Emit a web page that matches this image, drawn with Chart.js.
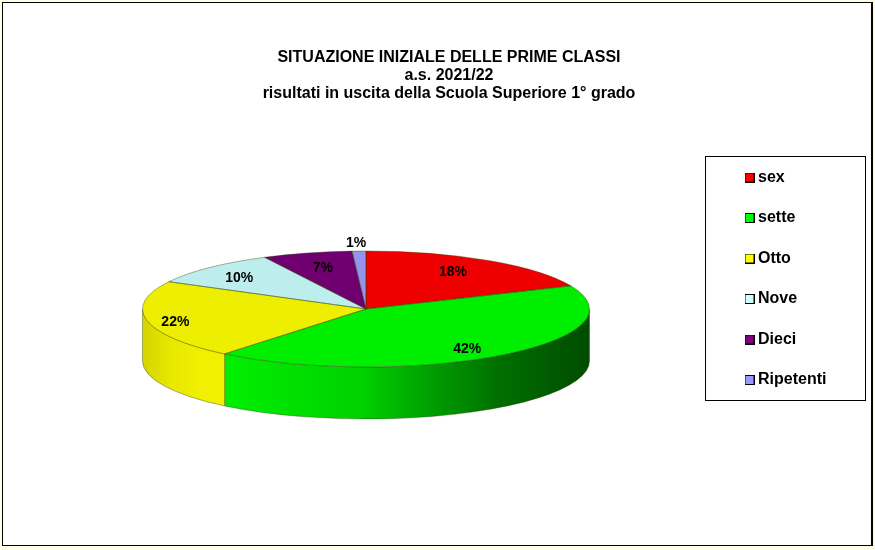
<!DOCTYPE html>
<html>
<head>
<meta charset="utf-8">
<title>Situazione iniziale</title>
<script src="https://cdn.jsdelivr.net/npm/chart.js@4"></script>
<style>
  html, body { margin: 0; padding: 0; background: #ffffe6; overflow: hidden; }
  #frame { position: absolute; left: 2px; top: 2px; width: 868px; height: 542px; background: #fff; border: solid #000; border-width: 1px 2px 1px 1px; }
  #wrap { position: absolute; left: 0; top: 0; width: 875px; height: 550px; }
</style>
</head>
<body>
<div id="frame"></div>
<div id="wrap"><canvas id="chart-classi"></canvas></div>
<script>
// Data
const categories = ["sex", "sette", "Otto", "Nove", "Dieci", "Ripetenti"];
const percentValues = [18.45, 42.45, 21.9, 9.7, 6.5, 1.0];
const titleLines = ["SITUAZIONE INIZIALE DELLE PRIME CLASSI", "a.s. 2021/22", "risultati in uscita della Scuola Superiore 1\u00b0 grado"];

// Colours
const topColors = ["#ee0000", "#00ee00", "#eeee00", "#bdeded", "#700070", "#9494ee"];
const legendColors = ["#ff0000", "#00ff00", "#ffff00", "#ccffff", "#800080", "#9999ff"];
const wallStops = [
  null,
  [[0, "#00f000"], [0.38, "#00d000"], [0.56, "#00a000"], [0.75, "#007000"], [1, "#004c00"]],
  [[0, "#d4d400"], [0.35, "#e8e800"], [0.7, "#f0f000"], [1, "#f0f000"]],
  null, null, null
];

// How far along the radius each percent label sits
const labelRadiusX = [0.71, 0.75, 0.87, 0.81, 0.73, 1.4];
const labelRadiusY = [0.78, 0.85, 1.1, 0.77, 0.75, 1.15];

// Where the tilted pie goes on the page
const pie = { x: 366, y: 309, rx: 223.5, ry: 58, depth: 52 };

const swatch = (color) => {
  const c = document.createElement("canvas");
  c.width = 10;
  c.height = 10;
  const g = c.getContext("2d");
  g.fillStyle = "#000";
  g.fillRect(0, 0, 10, 10);
  g.fillStyle = color;
  g.fillRect(1, 1, 8, 8);
  return c;
};

const tiltedPie = {
  id: "tiltedPie",
  afterLayout(chart) {
    // move title and legend to where the reference has them
    const t = chart.titleBlock;
    t.left = 28;
    t.right = 870;
    t.top = 49.2;
    t.bottom = 103;
    const l = chart.legend;
    l.left = 724.5;
    l.top = 145;
  },
  beforeDraw(chart) {
    const ctx = chart.ctx;
    ctx.save();
    ctx.strokeStyle = "#000";
    ctx.lineWidth = 1;
    ctx.strokeRect(705.5, 156.5, 160, 244);
    ctx.restore();
  },
  beforeDatasetsDraw(chart) {
    const ctx = chart.ctx;
    const arcs = chart.getDatasetMeta(0).data;

    // side wall, only the front half can be seen
    arcs.forEach((arc, i) => {
      const a0 = Math.max(arc.startAngle, 0);
      const a1 = Math.min(arc.endAngle, Math.PI);
      if (a1 <= a0 || !wallStops[i]) return;
      const x0 = pie.x + pie.rx * Math.cos(a0);
      const x1 = pie.x + pie.rx * Math.cos(a1);
      const grad = ctx.createLinearGradient(Math.min(x0, x1), 0, Math.max(x0, x1), 0);
      wallStops[i].forEach(s => grad.addColorStop(s[0], s[1]));
      ctx.beginPath();
      ctx.ellipse(pie.x, pie.y, pie.rx, pie.ry, 0, a0, a1);
      ctx.ellipse(pie.x, pie.y + pie.depth, pie.rx, pie.ry, 0, a1, a0, true);
      ctx.closePath();
      ctx.fillStyle = grad;
      ctx.fill();
      ctx.strokeStyle = "rgba(40,60,0,.55)";
      ctx.lineWidth = 0.7;
      ctx.stroke();
    });

    // squash the round pie of Chart.js into the ellipse
    const a = arcs[0];
    ctx.save();
    ctx.translate(pie.x, pie.y);
    ctx.scale(pie.rx / a.outerRadius, pie.ry / a.outerRadius);
    ctx.translate(-a.x, -a.y);
  },
  afterDatasetsDraw(chart) {
    const ctx = chart.ctx;
    ctx.restore();
    const arcs = chart.getDatasetMeta(0).data;

    // thin slice outlines
    ctx.save();
    ctx.strokeStyle = "rgba(40,60,0,.55)";
    ctx.lineWidth = 0.7;
    arcs.forEach(arc => {
      ctx.beginPath();
      ctx.moveTo(pie.x, pie.y);
      ctx.ellipse(pie.x, pie.y, pie.rx, pie.ry, 0, arc.startAngle, arc.endAngle);
      ctx.closePath();
      ctx.stroke();
    });

    // percent labels
    ctx.fillStyle = "#000";
    ctx.font = "bold 14px 'Liberation Sans'";
    ctx.textAlign = "center";
    ctx.textBaseline = "middle";
    arcs.forEach((arc, i) => {
      const mid = (arc.startAngle + arc.endAngle) / 2;
      const x = pie.x + pie.rx * labelRadiusX[i] * Math.cos(mid);
      const y = pie.y + pie.ry * labelRadiusY[i] * Math.sin(mid) + 1;
      ctx.fillText(Math.round(percentValues[i]) + "%", x, y);
    });
    ctx.restore();
  }
};

new Chart(document.getElementById("chart-classi").getContext("2d"), {
  type: "pie",
  data: {
    labels: categories,
    datasets: [{
      data: percentValues,
      backgroundColor: topColors,
      borderWidth: 0,
      clip: false
    }]
  },
  options: {
    responsive: true,
    maintainAspectRatio: false,
    animation: false,
    layout: { padding: { left: 20, right: 20 } },
    plugins: {
      tooltip: { enabled: false },
      title: {
        display: true,
        text: titleLines,
        color: "#000",
        padding: 0,
        font: { family: "'Liberation Sans'", size: 16, weight: "bold", lineHeight: 1.1 }
      },
      legend: {
        position: "right",
        align: "start",
        labels: {
          color: "#000",
          usePointStyle: true,
          pointStyleWidth: 1,
          padding: 24.5,
          font: { family: "'Liberation Sans'", size: 16, weight: "bold" },
          generateLabels: (chart) => categories.map((name, i) => ({
            text: name,
            index: i,
            pointStyle: swatch(legendColors[i]),
            fillStyle: legendColors[i],
            strokeStyle: "#000",
            lineWidth: 1
          }))
        }
      }
    }
  },
  plugins: [tiltedPie]
});
</script>
</body>
</html>
